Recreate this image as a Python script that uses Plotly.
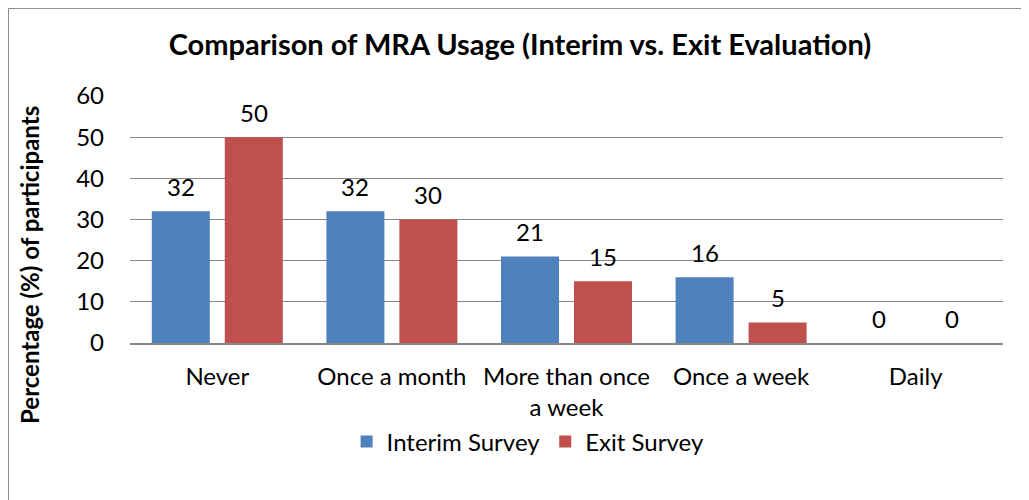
import plotly.graph_objects as go

# Chart data
categories = ['Never', 'Once a month', 'More than once<br>a week', 'Once a week', 'Daily']
interim_survey = [32, 32, 21, 16, 0]
exit_survey = [50, 30, 15, 5, 0]
series_names = ['Interim Survey', 'Exit Survey']

BLUE = '#4F81BD'
RED = '#C0504D'
GRID = '#878787'
FONT = 'Lato, Calibri, sans-serif'

# the page body has an 8px margin, so the figure is a bit smaller than the window
W, H = 1021, 492
margin = dict(l=122, r=26, t=88, b=157)
bargap = 0.164
bargroupgap = 0.205
plot_w = W - margin['l'] - margin['r']
plot_h = H - margin['t'] - margin['b']

fig = go.Figure()
for name, values, color in zip(series_names, [interim_survey, exit_survey], [BLUE, RED]):
    fig.add_trace(go.Bar(
        x=categories,
        y=values,
        name=name,
        marker=dict(color=color, line=dict(width=0)),
    ))

# Data labels sit well above the bars, as in Excel
slot = plot_w / len(categories) * (1 - bargap) / 2
for values, shift in [(interim_survey, -slot / 2), (exit_survey, slot / 2)]:
    for cat, v in zip(categories, values):
        fig.add_annotation(
            x=cat, y=v, text=str(v), showarrow=False,
            xshift=shift, yshift=25, yanchor='middle',
            font=dict(family=FONT, size=24, color='#000000'),
        )

# Y axis title
fig.add_annotation(
    xref='paper', yref='paper', x=(22 - margin['l']) / plot_w, y=0.316,
    text='<b>Percentage (%) of participants</b>', textangle=-90,
    showarrow=False, xanchor='center', yanchor='middle',
    font=dict(family=FONT, size=24, color='#000000'),
)

# Chart frame (left and top edges)
fx = (0.5 - margin['l']) / plot_w
fy = (H - margin['b'] - 0.5) / plot_h
fig.add_shape(type='line', xref='paper', yref='paper',
              x0=fx, x1=1.2, y0=fy, y1=fy,
              line=dict(color='#8c8c8c', width=1))
fig.add_shape(type='line', xref='paper', yref='paper',
              x0=fx, x1=fx, y0=fy, y1=-0.8,
              line=dict(color='#8c8c8c', width=1))

fig.update_layout(
    width=W, height=H,
    margin=margin,
    paper_bgcolor='white',
    plot_bgcolor='white',
    barmode='group',
    bargap=bargap,
    bargroupgap=bargroupgap,
    title=dict(
        text='<b>Comparison of MRA Usage (Interim vs. Exit Evaluation)</b>',
        xref='container', x=512 / W, xanchor='center',
        yref='container', y=1 - 37 / H, yanchor='middle',
        font=dict(family=FONT, size=29, color='#000000'),
    ),
    xaxis=dict(
        showgrid=False,
        showline=True, linecolor=GRID, linewidth=2,
        ticks='', ticklabelstandoff=11,
        tickfont=dict(family=FONT, size=24, color='#000000'),
    ),
    yaxis=dict(
        range=[0, 60], dtick=10,
        showgrid=True, gridcolor=GRID, gridwidth=1,
        zeroline=False, showline=False,
        ticks='', ticklabelstandoff=25,
        tickfont=dict(family=FONT, size=24, color='#000000'),
    ),
    legend=dict(
        orientation='h',
        xref='paper', x=0.456, xanchor='center',
        yref='paper', y=-0.40, yanchor='middle',
        font=dict(family=FONT, size=24, color='#000000'),
        itemwidth=30,
        traceorder='normal',
    ),
    showlegend=True,
)

fig.write_html('out.html')
